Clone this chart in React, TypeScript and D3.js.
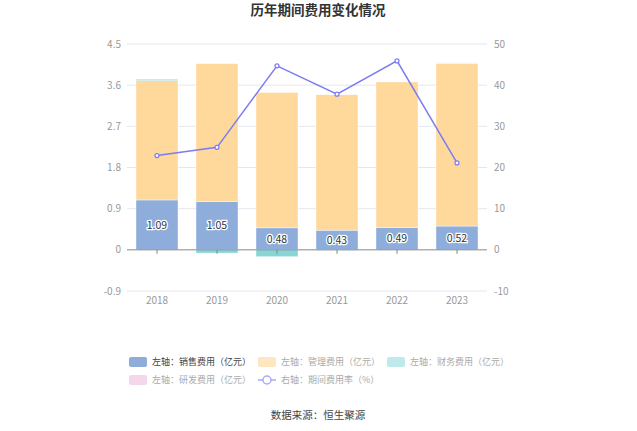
import React from 'react';
import * as d3 from 'd3';

const years = ['2018', '2019', '2020', '2021', '2022', '2023'];
const sales = [1.09, 1.05, 0.48, 0.43, 0.49, 0.52];
const admin = [2.61, 3.02, 2.96, 2.96, 3.18, 3.56];
const finance = [0.03, -0.07, -0.15, -0.01, 0.0, 0.0];
const rnd = [0.0, 0.0, 0.0, 0.0, 0.0, 0.01];
const rate = [22.9, 24.9, 44.7, 37.8, 45.9, 21.1];
const leftTicks = [-0.9, 0, 0.9, 1.8, 2.7, 3.6, 4.5];
const rightTicks = [-10, 0, 10, 20, 30, 40, 50];

const C = {
  sales: '#8eaddb',
  admin: '#ffd89b',
  finance: '#86d6d6',
  rnd: '#f4d7ea',
  line: '#7b7cf4',
};

const FONT = '"Noto Sans CJK SC", "Noto Sans", sans-serif';

export default function App() {
  const W = 637;
  const H = 431;
  const left = 127;
  const right = 487;
  const top = 44;
  const bottom = 291;

  const x = d3.scaleBand<string>().domain(years).range([left, right]).paddingInner(0.3).paddingOuter(0.15);
  const band = d3.scaleBand<string>().domain(years).range([left, right]);
  const y = d3.scaleLinear().domain([-0.9, 4.5]).range([bottom, top]);
  const y2 = d3.scaleLinear().domain([-10, 50]).range([bottom, top]);

  // stack positives upward, negatives downward
  const segs: { key: string; year: string; y0: number; y1: number; color: string }[] = [];
  years.forEach((yr, i) => {
    let pos = 0;
    let neg = 0;
    const parts: [string, number, string][] = [
      ['sales', sales[i], C.sales],
      ['admin', admin[i], C.admin],
      ['finance', finance[i], C.finance],
      ['rnd', rnd[i], C.rnd],
    ];
    parts.forEach(([k, v, c]) => {
      if (v >= 0) {
        segs.push({ key: k, year: yr, y0: pos, y1: pos + v, color: c });
        pos += v;
      } else {
        segs.push({ key: k, year: yr, y0: neg + v, y1: neg, color: c });
        neg += v;
      }
    });
  });

  const cx = (yr: string) => (band(yr) || 0) + band.bandwidth() / 2;
  const line = d3.line<number>().x((_, i) => cx(years[i])).y(d => y2(d));

  const legend1 = [
    { label: '左轴：销售费用（亿元）', color: C.sales, x: 129, dark: true },
    { label: '左轴：管理费用（亿元）', color: '#ffe6c2', x: 258 },
    { label: '左轴：财务费用（亿元）', color: '#bfe9ea', x: 387 },
  ];
  const legend2 = [{ label: '左轴：研发费用（亿元）', color: C.rnd, x: 129 }];

  return (
    <svg width={W} height={H} style={{ position: 'absolute', left: 0, top: 0 }} fontFamily={FONT}>
      <rect width={W} height={H} fill="#fff" />
      <text x={318} y={15} textAnchor="middle" fontSize={13.5} fontWeight="bold" fill="#333">
        历年期间费用变化情况
      </text>

      {leftTicks.map(t => (
        <g key={t}>
          {t !== 0 && <line x1={left} x2={right} y1={y(t)} y2={y(t)} stroke="#e6e6ef" />}
          <text x={left - 6} y={y(t)} dy="0.35em" textAnchor="end" fontSize={10} fill="#999">
            {t}
          </text>
        </g>
      ))}
      {rightTicks.map(t => (
        <text key={t} x={right + 7} y={y2(t)} dy="0.35em" fontSize={10} fill="#999">
          {t}
        </text>
      ))}

      {segs.map((s, i) =>
        Math.abs(y(s.y1) - y(s.y0)) > 0.01 ? (
          <rect
            key={i}
            x={x(s.year)}
            width={x.bandwidth()}
            y={y(s.y1)}
            height={y(s.y0) - y(s.y1)}
            fill={s.color}
            stroke="#fff"
            strokeWidth={0.4}
          />
        ) : null
      )}

      <line x1={left} x2={right} y1={y(0)} y2={y(0)} stroke="#888" />
      {years.map(yr => (
        <g key={yr}>
          <line x1={cx(yr)} x2={cx(yr)} y1={y(0)} y2={y(0) + 4} stroke="#888" />
          <text x={cx(yr)} y={bottom + 13} textAnchor="middle" fontSize={10} fill="#999">
            {yr}
          </text>
        </g>
      ))}

      {sales.map((v, i) => (
        <text
          key={i}
          x={cx(years[i])}
          y={y(v / 2)}
          dy="0.35em"
          textAnchor="middle"
          fontSize={10.5}
          fill="#333"
          stroke="#fff"
          strokeWidth={2.5}
          style={{ paintOrder: 'stroke' }}
        >
          {v.toFixed(2)}
        </text>
      ))}

      <path d={line(rate) || ''} fill="none" stroke={C.line} strokeWidth={1.5} />
      {rate.map((v, i) => (
        <circle key={i} cx={cx(years[i])} cy={y2(v)} r={2} fill="#fff" stroke={C.line} strokeWidth={1.2} />
      ))}

      {legend1.map(l => (
        <g key={l.label}>
          <rect x={l.x} y={357} width={18} height={10} rx={2} fill={l.color} />
          <text x={l.x + 23} y={362} dy="0.35em" fontSize={9} fill={l.dark ? '#444' : '#aaa'}>
            {l.label}
          </text>
        </g>
      ))}
      {legend2.map(l => (
        <g key={l.label}>
          <rect x={l.x} y={375} width={18} height={10} rx={2} fill={l.color} />
          <text x={l.x + 23} y={380} dy="0.35em" fontSize={9} fill="#aaa">
            {l.label}
          </text>
        </g>
      ))}
      <g>
        <line x1={258} x2={276} y1={380} y2={380} stroke="#a9aaf6" strokeWidth={1.5} />
        <circle cx={267} cy={380} r={4} fill="#fff" stroke="#a9aaf6" strokeWidth={1.5} />
        <text x={281} y={380} dy="0.35em" fontSize={9} fill="#aaa">
          右轴：期间费用率（%）
        </text>
      </g>

      <text x={318} y={415} dy="0.35em" textAnchor="middle" fontSize={10.5} fill="#444">
        数据来源：恒生聚源
      </text>
    </svg>
  );
}
